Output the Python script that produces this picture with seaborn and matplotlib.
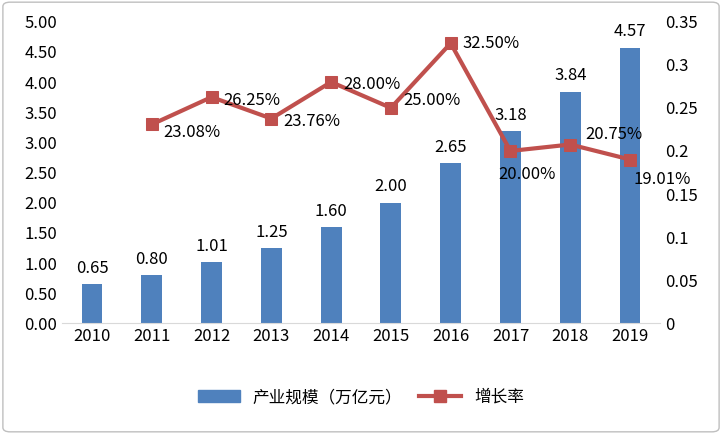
import numpy as np
import pandas as pd
import seaborn as sns
import matplotlib.pyplot as plt
from matplotlib.patches import FancyBboxPatch

plt.rcParams["font.family"] = ["Noto Sans CJK SC", "DejaVu Sans"]

years = ["2010", "2011", "2012", "2013", "2014", "2015", "2016", "2017", "2018", "2019"]
scale = [0.65, 0.80, 1.01, 1.25, 1.60, 2.00, 2.65, 3.18, 3.84, 4.57]
growth_years = years[1:]
growth = [0.2308, 0.2625, 0.2376, 0.2800, 0.2500, 0.3250, 0.2000, 0.2075, 0.1901]

bar_color = "#4F81BD"
line_color = "#C0504D"

df = pd.DataFrame({"year": years, "scale": scale})
gdf = pd.DataFrame({"x": np.arange(1, len(years)), "growth": growth})

fig = plt.figure(figsize=(7.22, 4.34), dpi=100)
ax = fig.add_axes([0.086, 0.255, 0.828, 0.695])
fig.patches.append(FancyBboxPatch((0.004, 0.005), 0.992, 0.99, boxstyle="round,pad=0,rounding_size=0.01",
                                  transform=fig.transFigure, fill=False, edgecolor="#BFBFBF", linewidth=1))

sns.barplot(data=df, x="year", y="scale", color=bar_color, width=0.35, saturation=1, ax=ax)
ax.set_ylim(0, 5)
ax.set_yticks(np.arange(0, 5.01, 0.5))
ax.set_yticklabels([f"{v:.2f}" for v in np.arange(0, 5.01, 0.5)])
ax.set_xlabel("")
ax.set_ylabel("")
for i, v in enumerate(scale):
    ax.text(i, v + 0.12, f"{v:.2f}", ha="center", va="bottom", fontsize=12)

ax2 = ax.twinx()
sns.lineplot(data=gdf, x="x", y="growth", color=line_color, linewidth=3, marker="s",
             markersize=8, markeredgecolor=line_color, ax=ax2)
ax2.set_ylim(0, 0.35)
ax2.set_yticks(np.arange(0, 0.351, 0.05))
ax2.set_yticklabels(["0", "0.05", "0.1", "0.15", "0.2", "0.25", "0.3", "0.35"])
ax2.set_ylabel("")
ax2.set_xlim(-0.5, len(years) - 0.5)
offsets = [(0.2, -0.009), (0.2, -0.004), (0.2, -0.003), (0.2, -0.003), (0.2, 0.008),
           (0.2, 0.0), (-0.2, -0.027), (0.25, 0.012), (0.05, -0.023)]
for x, g, (dx, dy) in zip(gdf["x"], growth, offsets):
    ax2.text(x + dx, g + dy, f"{g*100:.2f}%", ha="left", va="center", fontsize=12)

for a in (ax, ax2):
    for s in a.spines.values():
        s.set_visible(False)
    a.tick_params(length=0, labelsize=12)
ax.spines["bottom"].set_visible(True)
ax.spines["bottom"].set_color("#D9D9D9")

handles = [plt.Rectangle((0, 0), 1, 1, color=bar_color),
           plt.Line2D([0], [0], color=line_color, linewidth=3, marker="s", markersize=8)]
fig.legend(handles, ["产业规模（万亿元）", "增长率"], loc="lower center", ncol=2, frameon=False,
           fontsize=12, bbox_to_anchor=(0.5, 0.03), handlelength=2.5, columnspacing=1.0)

fig.savefig("out.png", dpi=100)
